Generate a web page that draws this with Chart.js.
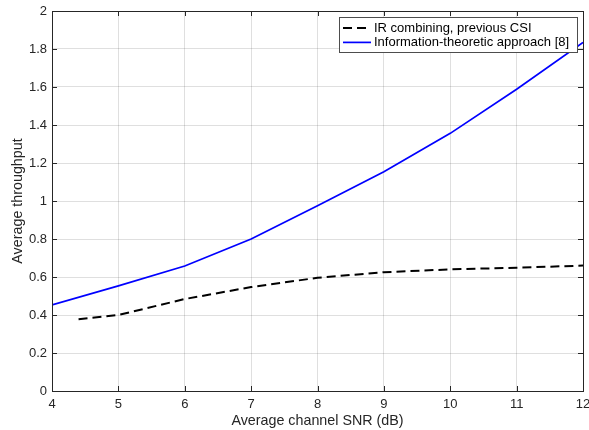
<!DOCTYPE html>
<html>
<head>
<meta charset="utf-8">
<script src="https://cdn.jsdelivr.net/npm/chart.js@4/dist/chart.umd.min.js"></script>
<style>
  html, body { margin: 0; padding: 0; background: #fff; }
  #wrap { width: 589px; height: 430px; }
</style>
</head>
<body>
<div id="wrap"><canvas id="chart" width="589" height="430"></canvas></div>
<script>
// ===== DATA =====
const snrIR = [4.4, 5, 6, 7, 8, 9, 10, 11, 12];
const throughputIR = [0.378, 0.40, 0.484, 0.547, 0.596, 0.625, 0.64, 0.649, 0.66];

const snrIT = [4, 5, 6, 7, 8, 9, 10, 11, 12];
const throughputIT = [0.453, 0.553, 0.658, 0.80, 0.975, 1.154, 1.356, 1.588, 1.835];

const xTicks = [4, 5, 6, 7, 8, 9, 10, 11, 12];
const yTicks = [0, 0.2, 0.4, 0.6, 0.8, 1, 1.2, 1.4, 1.6, 1.8, 2];

const seriesNames = ['IR combining, previous CSI', 'Information-theoretic approach [8]'];

const FONT = '"Liberation Sans", Arial, Helvetica, sans-serif';
const AXIS_COLOR = '#262626';

function toPoints(xs, ys) {
  return xs.map((x, i) => ({ x: x, y: ys[i] }));
}

// ===== MATLAB-STYLE BOX, INWARD TICKS AND LEGEND =====
const matlabAxes = {
  id: 'matlabAxes',
  afterDatasetsDraw(chart) {
    const { ctx, chartArea: a, scales } = chart;
    const len = 5;
    ctx.save();
    ctx.strokeStyle = AXIS_COLOR;
    ctx.lineWidth = 1;
    ctx.beginPath();
    scales.x.ticks.forEach(t => {
      const px = Math.round(scales.x.getPixelForValue(t.value)) + 0.5;
      ctx.moveTo(px, a.bottom); ctx.lineTo(px, a.bottom - len);
      ctx.moveTo(px, a.top); ctx.lineTo(px, a.top + len);
    });
    scales.y.ticks.forEach(t => {
      const py = Math.round(scales.y.getPixelForValue(t.value)) + 0.5;
      ctx.moveTo(a.left, py); ctx.lineTo(a.left + len, py);
      ctx.moveTo(a.right, py); ctx.lineTo(a.right - len, py);
    });
    ctx.stroke();
    ctx.strokeRect(Math.round(a.left) + 0.5, Math.round(a.top) + 0.5,
      Math.round(a.right - a.left), Math.round(a.bottom - a.top));
    ctx.restore();
  },
  afterDraw(chart) {
    const { ctx, chartArea: a } = chart;
    const boxRight = a.right - 6;
    const boxTop = a.top + 6;
    const boxW = 238;
    const boxH = 35;
    const boxLeft = boxRight - boxW;
    ctx.save();
    ctx.fillStyle = '#fff';
    ctx.fillRect(boxLeft, boxTop, boxW, boxH);
    ctx.strokeStyle = '#4d4d4d';
    ctx.lineWidth = 1;
    ctx.strokeRect(Math.round(boxLeft) + 0.5, Math.round(boxTop) + 0.5, boxW, boxH);
    ctx.font = '13px ' + FONT;
    ctx.textBaseline = 'middle';
    ctx.textAlign = 'left';
    chart.data.datasets.forEach((ds, i) => {
      const y = boxTop + 11 + i * 14.4;
      ctx.strokeStyle = ds.borderColor;
      ctx.lineWidth = ds.borderWidth;
      ctx.setLineDash(ds.borderDash || []);
      ctx.beginPath();
      ctx.moveTo(boxLeft + 4, y);
      ctx.lineTo(boxLeft + 32, y);
      ctx.stroke();
      ctx.setLineDash([]);
      ctx.fillStyle = '#000';
      ctx.fillText(ds.label, boxLeft + 35, y);
    });
    ctx.restore();
  }
};

// ===== CHART =====
const ctx = document.getElementById('chart').getContext('2d');
new Chart(ctx, {
  type: 'line',
  data: {
    datasets: [
      {
        label: seriesNames[0],
        data: toPoints(snrIR, throughputIR),
        borderColor: '#000000',
        borderWidth: 2,
        borderDash: [9, 5],
        pointRadius: 0,
        fill: false,
        tension: 0
      },
      {
        label: seriesNames[1],
        data: toPoints(snrIT, throughputIT),
        borderColor: '#0000ff',
        borderWidth: 1.7,
        pointRadius: 0,
        fill: false,
        tension: 0
      }
    ]
  },
  options: {
    responsive: false,
    animation: false,
    layout: { padding: { left: 0, right: 6, top: 11, bottom: 0 } },
    plugins: {
      legend: { display: false },
      tooltip: { enabled: false }
    },
    scales: {
      x: {
        type: 'linear',
        min: 4,
        max: 12,
        afterBuildTicks: s => { s.ticks = xTicks.map(v => ({ value: v })); },
        afterFit: s => { s.height = 39; s.paddingLeft = 0; s.paddingRight = 0; },
        ticks: {
          font: { family: FONT, size: 13 },
          color: AXIS_COLOR,
          padding: 6,
          maxRotation: 0,
          callback: v => String(v)
        },
        grid: { color: 'rgba(38,38,38,0.15)', drawTicks: false },
        border: { display: false },
        title: {
          display: true,
          text: 'Average channel SNR (dB)',
          font: { family: FONT, size: 14.3 },
          color: AXIS_COLOR,
          padding: { top: 0, bottom: 0 }
        }
      },
      y: {
        type: 'linear',
        min: 0,
        max: 2,
        afterBuildTicks: s => { s.ticks = yTicks.map(v => ({ value: v })); },
        afterFit: s => { s.width = 52; s.paddingTop = 0; s.paddingBottom = 0; },
        ticks: {
          font: { family: FONT, size: 13 },
          color: AXIS_COLOR,
          padding: 5,
          callback: v => String(+v.toFixed(1))
        },
        grid: { color: 'rgba(38,38,38,0.15)', drawTicks: false },
        border: { display: false },
        title: {
          display: true,
          text: 'Average throughput',
          font: { family: FONT, size: 14.3 },
          color: AXIS_COLOR,
          padding: { top: 9, bottom: 0 }
        }
      }
    }
  },
  plugins: [matlabAxes]
});
</script>
</body>
</html>
